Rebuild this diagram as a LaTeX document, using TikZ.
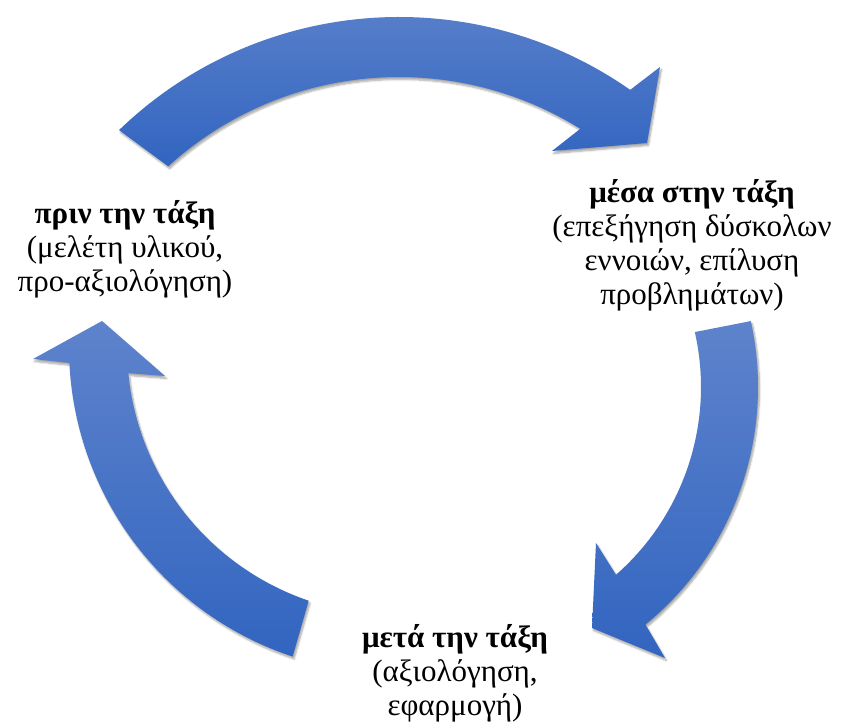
\documentclass[tikz,border=0pt]{standalone}
\usepackage{fontspec}
\setmainfont{Liberation Serif}
\usetikzlibrary{shadows.blur}
\definecolor{arrtop}{RGB}{94,131,204}
\definecolor{arrbot}{RGB}{50,101,192}
\begin{document}
\begin{tikzpicture}[x=1pt,y=1pt,
  arrowfill/.style={top color=arrtop, bottom color=arrbot, draw=none,
    blur shadow={shadow xshift=1.5pt, shadow yshift=-2.5pt, shadow blur steps=6, shadow opacity=35}},
  txt/.style={align=center, font=\fontsize{31}{34}\selectfont, inner sep=0pt}]
\useasboundingbox (0,0) rectangle (842,723);
% top arrow
\begin{scope}[shift={(399,303)}]
\path[arrowfill] (132.3:343) -- (134:403) arc[start angle=134,end angle=55,radius=403]
  -- (261,353) -- (248,277) -- (153,269) -- (58.1:343)
  arc[start angle=58.1,end angle=132.3,radius=343] -- cycle;
\end{scope}
% right arrow
\begin{scope}[shift={(451,336)}]
\path[arrowfill] (12.7:250) -- (12.4:307) arc[start angle=12.4,end angle=-50.7,radius=307]
  -- (214,-271) -- (141,-241) -- (145,-156) -- (-48.7:250)
  arc[start angle=-48.7,end angle=12.7,radius=250] -- cycle;
\end{scope}
% left arrow
\begin{scope}[shift={(395,376)}]
\path[arrowfill] (251.2:268) -- (251.7:326) arc[start angle=251.7,end angle=182.8,radius=326]
  -- (-362,-12) -- (-293,26) -- (-230,-29) -- (185.6:268)
  arc[start angle=185.6,end angle=251.2,radius=268] -- cycle;
\end{scope}
\node[txt] (before) at (125,474) {\textbf{πριν την τάξη}\\(μελέτη υλικού,\\προ-αξιολόγηση)};
\node[txt] (during) at (692,478) {\textbf{μέσα στην τάξη}\\(επεξήγηση δύσκολων\\εννοιών, επίλυση\\προβλημάτων)};
\node[txt] (after) at (455,50) {\textbf{μετά την τάξη}\\(αξιολόγηση,\\εφαρμογή)};
\end{tikzpicture}
\end{document}
